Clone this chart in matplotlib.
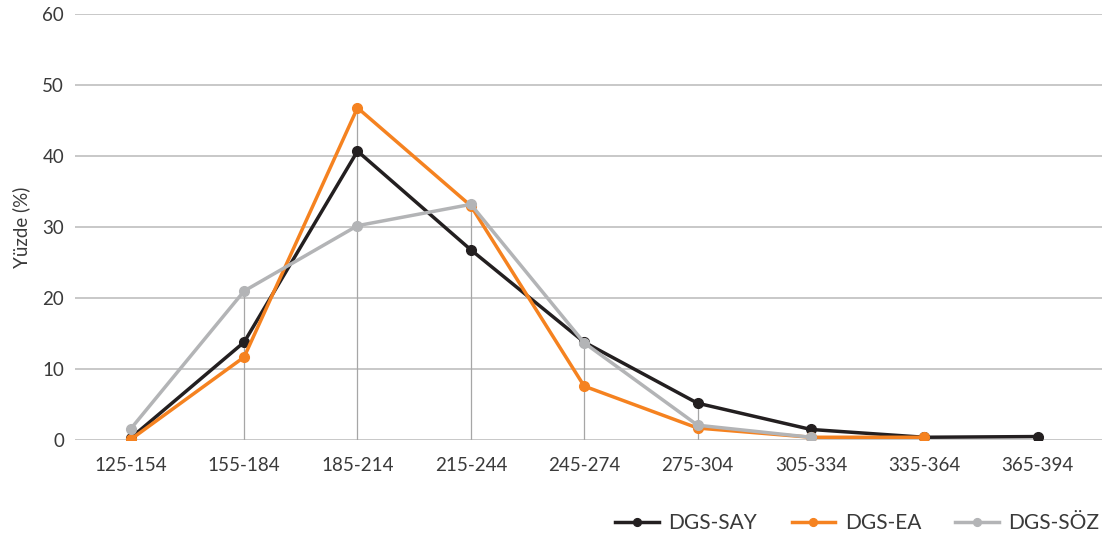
import numpy as np
import matplotlib
matplotlib.use("Agg")
import matplotlib.pyplot as plt

plt.rcParams["font.family"] = ["Lato", "DejaVu Sans"]

categories = ["125-154", "155-184", "185-214", "215-244", "245-274",
              "275-304", "305-334", "335-364", "365-394"]
say = [0.3, 13.8, 40.7, 26.8, 13.8, 5.2, 1.5, 0.4, 0.5]
ea = [0.1, 11.7, 46.8, 33.0, 7.6, 1.7, 0.4, 0.4, np.nan]
soz = [1.6, 21.0, 30.2, 33.2, 13.7, 2.1, 0.4, np.nan, np.nan]

series = [("DGS-SAY", say, "#231f20"),
          ("DGS-EA", ea, "#f58220"),
          ("DGS-SÖZ", soz, "#b3b4b6")]
text_color = "#3a3a3a"

fig = plt.figure(figsize=(11.15, 5.42), dpi=100)
ax = fig.add_axes([0.0675, 0.188, 0.921, 0.786])

x = np.arange(len(categories))

# drop lines from the highest point in each category
tops = np.nanmax(np.array([say, ea, soz], dtype=float), axis=0)
ax.vlines(x, 0, tops, color="#a6a6a6", lw=0.9, zorder=1)

for name, vals, col in series:
    ax.plot(x, vals, color=col, lw=2.5, marker="o", ms=7, label=name, zorder=3)

ax.set_xlim(-0.49, 8.57)
ax.set_ylim(0, 60)
ax.set_yticks(range(0, 61, 10))
ax.set_xticks(x)
ax.set_xticklabels(categories)
ax.yaxis.grid(True, color="#c4c4c4", lw=1.3, zorder=0)
ax.set_axisbelow(True)
for s in ax.spines.values():
    s.set_visible(False)
ax.tick_params(axis="both", length=0, labelsize=13.5, colors=text_color)
ax.tick_params(axis="x", pad=12)
ax.tick_params(axis="y", pad=8)
ax.set_ylabel("Yüzde (%)", fontsize=13.5, color=text_color)
ax.yaxis.set_label_coords(-0.044, 0.5)

fig.legend(loc="lower right", bbox_to_anchor=(1.003, -0.018), ncol=3, frameon=False,
           fontsize=15, handlelength=2.1, columnspacing=1.65, handletextpad=0.45,
           labelcolor=text_color, markerscale=0.8)

fig.savefig("out.png", dpi=100)
